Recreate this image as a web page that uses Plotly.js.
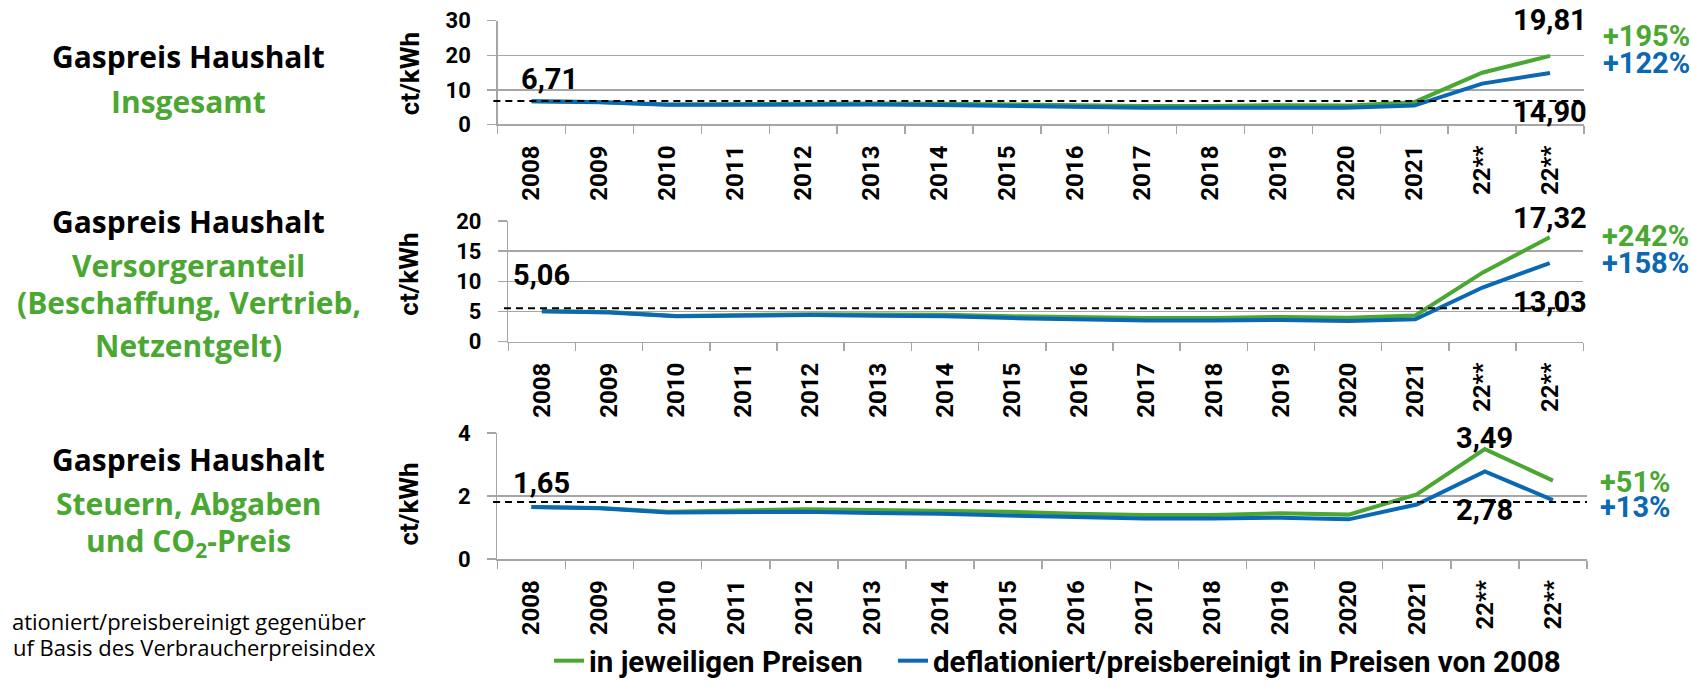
<!DOCTYPE html>
<html>
<head>
<meta charset="utf-8">
<script src="https://cdn.plot.ly/plotly-3.0.1.min.js"></script>
<style>html,body{margin:0;padding:0;background:#fff;}#chart{width:1691px;height:687px;}</style>
</head>
<body>
<div id="chart"></div>
<script>
// ---------- data ----------
const years = ["2008","2009","2010","2011","2012","2013","2014","2015","2016","2017","2018","2019","2020","2021","22**","22**"];

const totalNominal    = [6.71, 6.50, 5.80, 5.95, 6.10, 6.05, 6.00, 5.75, 5.50, 5.35, 5.35, 5.55, 5.45, 6.45, 14.96, 19.81];
const totalReal       = [6.71, 6.45, 5.70, 5.80, 5.90, 5.75, 5.65, 5.30, 5.00, 4.85, 4.85, 4.95, 4.85, 5.45, 11.80, 14.90];

const supplierNominal = [5.06, 4.90, 4.25, 4.40, 4.55, 4.50, 4.45, 4.20, 4.00, 3.90, 3.90, 4.10, 3.98, 4.35, 11.45, 17.32];
const supplierReal    = [5.06, 4.85, 4.20, 4.30, 4.40, 4.30, 4.20, 3.90, 3.65, 3.50, 3.50, 3.60, 3.42, 3.70, 8.97, 13.03];

const taxesNominal    = [1.65, 1.62, 1.50, 1.55, 1.58, 1.56, 1.54, 1.50, 1.44, 1.40, 1.40, 1.45, 1.41, 2.05, 3.49, 2.49];
const taxesReal       = [1.65, 1.61, 1.48, 1.50, 1.50, 1.46, 1.44, 1.38, 1.32, 1.29, 1.29, 1.31, 1.26, 1.73, 2.78, 1.87];

const referenceLevels = [6.81, 5.55, 1.81];
const yRanges = [[0, 30], [0, 20], [0, 4]];
const yDticks = [10, 5, 2];

const seriesNames = ["in jeweiligen Preisen", "deflationiert/preisbereinigt in Preisen von 2008"];
const panelTitles = [
  ["Gaspreis Haushalt", "Insgesamt"],
  ["Gaspreis Haushalt", "Versorgeranteil", "(Beschaffung, Vertrieb,", "Netzentgelt)"],
  ["Gaspreis Haushalt", "Steuern, Abgaben", "und CO<sub>2</sub>-Preis"]
];
const footnoteLines = ["ationiert/preisbereinigt gegenüber", "uf Basis des Verbraucherpreisindex"];
const unitLabel = "ct/kWh";

// ---------- styling ----------
const GREEN = "#4aa832";
const BLUE = "#0b68b2";
const GRID = "#a6a6a6";
const F = 'Roboto, "Liberation Sans", Arial, sans-serif';
const TF = '"Open Sans", "Noto Sans", sans-serif';
const W = 1691, H = 687;

const xIdx = years.map((_, i) => i);
const fmt = v => v.toFixed(2).replace(".", ",");
const pct = (a, b) => "+" + Math.round((a / b - 1) * 100) + "%";

const panels = [
  {nom: totalNominal, real: totalReal, xd: [497.7, 1584], yd: [21, 126.7]},
  {nom: supplierNominal, real: supplierReal, xd: [508.3, 1583.3], yd: [225, 347.7]},
  {nom: taxesNominal, real: taxesReal, xd: [497.4, 1587], yd: [440.7, 569]}
];

const traces = [];
const legendFont = {family: F, size: 29.5, color: "#000", weight: 700};
const layout = {
  width: W, height: H,
  margin: {l: 0, r: 0, t: 0, b: 0},
  paper_bgcolor: "#fff", plot_bgcolor: "rgba(0,0,0,0)",
  showlegend: true,
  legend: {orientation: "h", x: 549 / W, xanchor: "left", y: 1 - 673 / H, yanchor: "middle",
           font: legendFont, bgcolor: "rgba(0,0,0,0)", borderwidth: 0},
  legend2: {orientation: "h", x: 893 / W, xanchor: "left", y: 1 - 673 / H, yanchor: "middle",
           font: legendFont, bgcolor: "rgba(0,0,0,0)", borderwidth: 0},
  annotations: [],
  shapes: []
};

panels.forEach((p, k) => {
  const n = k === 0 ? "" : String(k + 1);
  const xa = "x" + n, ya = "y" + n;
  traces.push({x: xIdx, y: p.nom, xaxis: xa, yaxis: ya, type: "scatter", mode: "lines",
    line: {color: GREEN, width: 4}, name: seriesNames[0], showlegend: k === 0, legend: "legend",
    hoverinfo: "skip"});
  traces.push({x: xIdx, y: p.real, xaxis: xa, yaxis: ya, type: "scatter", mode: "lines",
    line: {color: BLUE, width: 4}, name: seriesNames[1], showlegend: k === 0, legend: "legend2",
    hoverinfo: "skip"});

  layout["xaxis" + n] = {
    domain: [p.xd[0] / W, p.xd[1] / W], anchor: ya, range: [-0.5, years.length - 0.5],
    tickmode: "array", tickvals: xIdx, ticktext: years, tickangle: -90, ticks: "",
    ticklabelstandoff: 10,
    tickfont: {family: F, size: 24, color: "#000", weight: 700},
    showgrid: false, zeroline: false, showline: true, linecolor: GRID, linewidth: 1.5,
    minor: {tickmode: "linear", tick0: -0.5, dtick: 1, ticks: "outside", ticklen: 8,
            tickwidth: 1.5, tickcolor: GRID, showgrid: false},
    fixedrange: true
  };
  layout["yaxis" + n] = {
    domain: [1 - p.yd[1] / H, 1 - p.yd[0] / H], anchor: xa, range: yRanges[k], dtick: yDticks[k],
    tick0: 0, ticks: "outside", ticklen: 9, tickwidth: 1.5, tickcolor: GRID,
    ticklabelstandoff: 12,
    tickfont: {family: F, size: 22, color: "#000", weight: 700},
    showgrid: true, gridcolor: GRID, gridwidth: 1.5, zeroline: false,
    showline: true, linecolor: GRID, linewidth: 1.5, fixedrange: true
  };

  // dashed reference line
  layout.shapes.push({type: "line", xref: xa + " domain", yref: ya, x0: -0.004, x1: 1,
    y0: referenceLevels[k], y1: referenceLevels[k], line: {color: "#000", width: 2, dash: "7px,5px"}});

  // unit label
  const cy = [75, 279, 513][k];
  layout.annotations.push({xref: "paper", yref: "paper", x: 409.5 / W, y: 1 - cy / H,
    text: unitLabel, textangle: -90, showarrow: false, xanchor: "center", yanchor: "middle",
    font: {family: F, size: 26, color: "#000", weight: 700}});
});

// value labels
const valFont = {family: F, size: 29, color: "#000", weight: 700};
function val(axn, xi, y, xs, ys) {
  layout.annotations.push({xref: "x" + axn, yref: "y" + axn, x: xi, y: y, text: fmt(y),
    showarrow: false, xanchor: "center", yanchor: "middle", xshift: xs, yshift: ys, font: valFont});
}
function pctLabel(axn, xi, y, base, color, xs, ys) {
  layout.annotations.push({xref: "x" + axn, yref: "y" + axn, x: xi, y: y, text: pct(y, base),
    showarrow: false, xanchor: "left", yanchor: "middle", xshift: xs, yshift: ys,
    font: {family: F, size: 29, color: color, weight: 700}});
}
const L = years.length - 1;
val("", 0, totalNominal[0], 18, 22);
val("", L, totalNominal[L], 0, 36);
val("", L, totalReal[L], 0, -39);
pctLabel("", L, totalNominal[L], totalNominal[0], GREEN, 51, 20);
pctLabel("", L, totalReal[L], totalReal[0], BLUE, 51, 10);

val("2", 0, supplierNominal[0], 0, 36);
val("2", L, supplierNominal[L], 0, 19);
val("2", L, supplierReal[L], 0, -39);
pctLabel("2", L, supplierNominal[L], supplierNominal[0], GREEN, 50, 1);
pctLabel("2", L, supplierReal[L], supplierReal[0], BLUE, 50, 0);

val("3", 0, taxesNominal[0], 10, 24);
val("3", L - 1, taxesNominal[L - 1], 0, 11);
val("3", L - 1, taxesReal[L - 1], 0, -39);
pctLabel("3", L, taxesNominal[L], taxesNominal[0], GREEN, 45, -1);
pctLabel("3", L, taxesReal[L], taxesReal[0], BLUE, 45, -7);

// left panel titles
const titleCenters = [[57, 103], [225, 270, 308, 352], [468, 512, 552]];
panelTitles.forEach((lines, k) => {
  lines.forEach((t, j) => {
    layout.annotations.push({xref: "paper", yref: "paper", x: 188.5 / W, y: 1 - titleCenters[k][j] / H,
      text: t, showarrow: false, xanchor: "center", yanchor: "middle",
      font: {family: TF, size: 30, color: j === 0 ? "#000" : GREEN, weight: 700}});
  });
});

// footnote
const footRight = [368, 378], footCenters = [632, 659];
footnoteLines.forEach((t, j) => {
  layout.annotations.push({xref: "paper", yref: "paper", x: footRight[j] / W, y: 1 - footCenters[j] / H,
    text: t, showarrow: false, xanchor: "right", yanchor: "middle",
    font: {family: TF, size: 22, color: "#000"}});
});

Plotly.newPlot("chart", traces, layout, {displayModeBar: false, staticPlot: true});
</script>
</body>
</html>
